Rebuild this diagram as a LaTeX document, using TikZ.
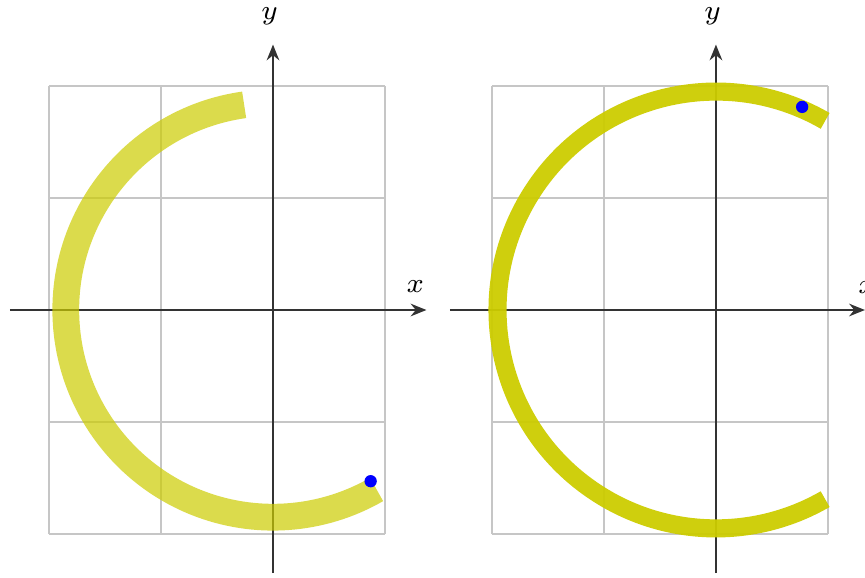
\documentclass[tikz,border=0pt]{standalone}
\usepackage{amsmath}
\usepackage{xcolor}
\usepackage{tikz}
\usetikzlibrary{arrows.meta}
\definecolor{arcyellow}{HTML}{CCCC00}
\definecolor{dotblue}{HTML}{0000FF}
\definecolor{axisgray}{HTML}{333333}

\begin{document}
\begin{tikzpicture}[
    gridline/.style={draw=gray!45, line width=0.3pt},
    axis/.style={draw=axisgray, line width=0.55pt, -{Stealth[length=4pt,width=3.2pt]}},
    trackA/.style={draw=arcyellow, draw opacity=0.7, line width=6.8pt},
    trackB/.style={draw=arcyellow, draw opacity=0.95, line width=4.6pt},
    pointdot/.style={fill=dotblue},
    axlabel/.style={font=\fontsize{7}{8}\selectfont, inner sep=0pt}
]
\useasboundingbox (-2.4375,-2.384) rectangle (5.286,2.768);
% left panel
\draw[gridline] (-2,-2) grid (1,2);
\coordinate (xstartA) at (-2.35,0);
\coordinate (xendA) at (1.37,0);
\coordinate (ystartA) at (0,-2.35);
\coordinate (yendA) at (0,2.37);
\draw[axis] (xstartA) -- (xendA);
\draw[axis] (ystartA) -- (yendA);
\node[axlabel] (xlabA) at (1.27,0.21) {$x$};
\node[axlabel] (ylabA) at (-0.03,2.62) {$y$};
\draw[trackA] (98:1.85) arc[start angle=98, end angle=300, radius=1.85];
\fill[pointdot] (299.7:1.76) circle[radius=0.055];
% right panel
\begin{scope}[shift={(3.955,0)}]
\draw[gridline] (-2,-2) grid (1,2);
\coordinate (xstartB) at (-2.375,0);
\coordinate (xendB) at (1.33,0);
\coordinate (ystartB) at (0,-2.35);
\coordinate (yendB) at (0,2.37);
\draw[axis] (xstartB) -- (xendB);
\draw[axis] (ystartB) -- (yendB);
\node[axlabel] (xlabB) at (1.35,0.2) {$x$};
\node[axlabel] (ylabB) at (-0.03,2.62) {$y$};
\draw[trackB] (60:1.95) arc[start angle=60, end angle=300, radius=1.95];
\fill[pointdot] (67:1.97) circle[radius=0.055];
\end{scope}
\end{tikzpicture}
\end{document}
